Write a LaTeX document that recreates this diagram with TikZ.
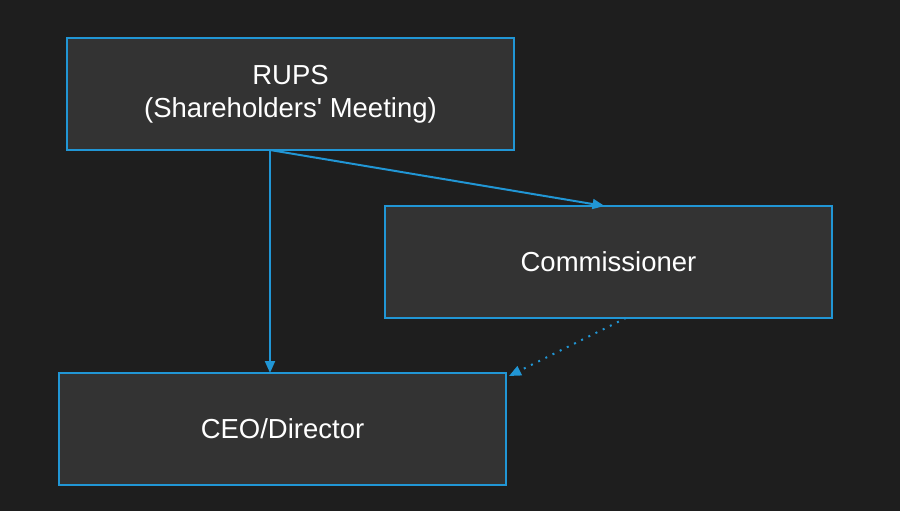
\documentclass[tikz,border=0pt]{standalone}
\usepackage{fontspec}
\setmainfont{Liberation Sans}
\usetikzlibrary{positioning, arrows.meta}
\definecolor{bgdark}{RGB}{30,30,30}
\definecolor{boxgray}{RGB}{51,51,51}
\definecolor{linkblue}{RGB}{33,150,213}

\begin{document}
\begin{tikzpicture}[x=1pt, y=-1pt, >={Triangle[length=12pt,width=10pt]},
            every node/.style={font=\fontsize{27.5}{33}\selectfont, text=white},
            orgbox/.style={rectangle, draw=linkblue, fill=boxgray, line width=2pt,
            minimum width=447pt, minimum height=112pt, inner sep=0pt, outer sep=0pt,
            align=center},
            link/.style={->, draw=linkblue, line width=2pt}]
          \useasboundingbox[fill=bgdark] (0,0) rectangle (900,511);
          \node[orgbox] (rups) at (290.5,94) {RUPS\\(Shareholders\textquotesingle{} Meeting)};
          \node[orgbox, below right=56pt and -129pt of rups] (comm) {Commissioner};
          \node[orgbox, below left=55pt and -121pt of comm] (ceo) {CEO/Director};
          \coordinate (fork) at ([xshift=-20.5pt]rups.south);
          \draw[link] (fork) -- (fork |- ceo.north);
          \draw[link] (fork) -- ([xshift=-4pt]comm.north);
          \draw[link, dash pattern=on 2pt off 6pt] ([xshift=17.5pt]comm.south) -- ([xshift=3pt,yshift=-3pt]ceo.north east);
        \end{tikzpicture}
\end{document}
